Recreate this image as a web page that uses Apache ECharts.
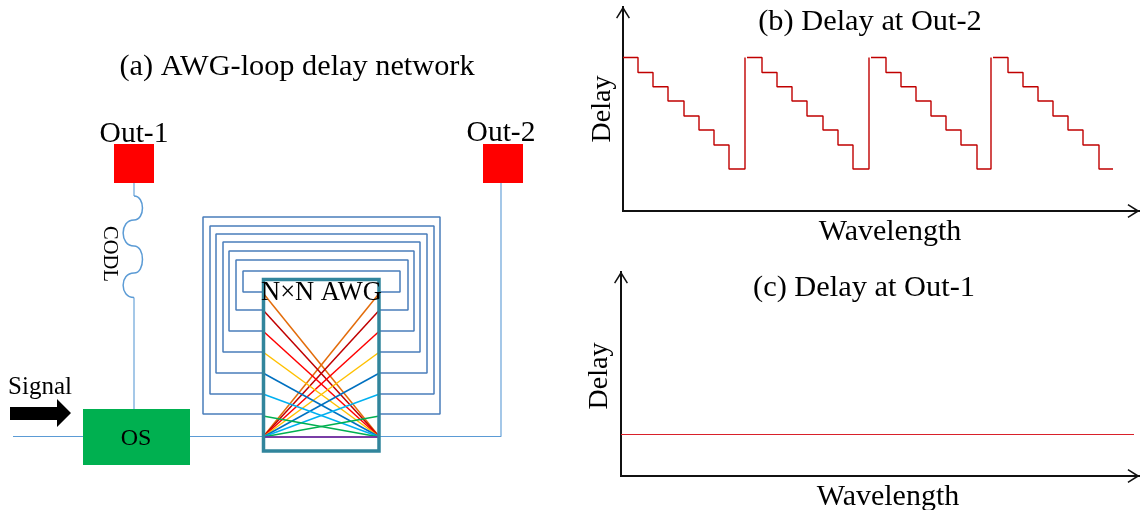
<!DOCTYPE html>
<html><head><meta charset="utf-8">
<style>html,body{margin:0;padding:0;background:#fff}#c{width:1140px;height:510px}</style>
<script src="https://cdn.jsdelivr.net/npm/echarts@6/dist/echarts.min.js"></script>
</head><body><div id="c"></div>
<script>
// Panel (b): delay staircase, wavelength and delay
const delayLevels = [153.5, 138.5, 124.3, 110, 95, 81, 66, 42];
const period1 = [0, 15, 30, 45, 61, 76, 91, 106, 122];
const period2 = [124, 139, 154, 169, 184, 200, 215, 230, 246];
const period3 = [248, 263, 278, 293, 308, 323, 338, 354, 368];
const period4 = [370, 385, 400, 415, 430, 445, 460, 476, 490];
// Panel (c): flat delay
const flatWavelength = [0, 513];
const flatDelay = [41.5, 41.5];
// Panel (a): diagram parts
const loopLeft = [243, 236, 229, 223, 216, 210, 203];
const loopTop = [271, 260, 251, 242, 234, 226, 217];
const loopRight = [400, 408, 414, 420, 427, 434, 440];
const loopBottom = [292, 310, 331, 352, 373, 394, 414];
const fanPorts = [293, 310, 331, 352, 373, 394, 416, 437];
const fanColors = ['#E36C0A', '#C00000', '#FF0000', '#FFC000', '#0070C0', '#00B0F0', '#00B050', '#7030A0'];
const coilTurns = [[297.5,273,-14.5],[273,246,11.3],[246,220,-14.5],[220,196,11.3]];
const labels = ['(a) AWG-loop delay network', 'Out-1', 'Out-2', 'Signal', 'OS', 'CODL', 'N×N AWG', '(b) Delay at Out-2', '(c) Delay at Out-1'];

const SERIF = '"Liberation Serif","Times New Roman",serif';
const WIRE = '#5B9BD5', LOOP = '#4A7EBB', RED = '#C00000';
const chevUp = 'path://M-9 13 L-0.9 0 L0.9 0 L9 13 L7.4 14 L0 2.6 L-7.4 14 Z';

function stepSeries(xs, levels, last) {
  const d = xs.map((x, i) => [x, i < levels.length ? levels[i] : last]);
  return {type:'line', xAxisIndex:1, yAxisIndex:1, step:'end', data:d, symbol:'none', clip:false,
    lineStyle:{color:RED, width:1.4}, silent:true, z:3};
}
function poly(points, color, width, z, extra) {
  return Object.assign({type:'line', xAxisIndex:0, yAxisIndex:0, data:points, symbol:'none', clip:false, silent:true,
    lineStyle:{color:color, width:width}, z:z}, extra || {});
}
function box(x0, y0, x1, y1, fill, stroke, lw, z) {
  return {type:'custom', xAxisIndex:0, yAxisIndex:0, clip:false, silent:true, z:z, data:[[x0,y0,x1,y1]],
    renderItem(p, api) {
      const a = api.coord([api.value(0), api.value(1)]), b = api.coord([api.value(2), api.value(3)]);
      return {type:'rect', shape:{x:a[0], y:a[1], width:b[0]-a[0], height:b[1]-a[1]},
        style:{fill:fill, stroke:stroke, lineWidth:lw}};
    }};
}
const arrowPts = [[10,407],[57,407],[57,399],[71,413],[57,427],[57,420],[10,420]];

const series = [];
loopLeft.forEach((_, i) => {
  series.push(poly([[263,loopBottom[i]],[loopLeft[i],loopBottom[i]],[loopLeft[i],loopTop[i]],[loopRight[i],loopTop[i]],[loopRight[i],loopBottom[i]],[379,loopBottom[i]]], LOOP, 1.5, 2));
});
fanPorts.forEach((y, i) => {
  series.push(poly([[263,437],[379.5,y]], fanColors[i], 1.5, 4));
  series.push(poly([[379.5,437],[263,y]], fanColors[i], 1.5, 4));
});
series.push(poly([[13,436.5],[83,436.5]], WIRE, 1.1, 2));
series.push(poly([[190,436.5],[263,436.5]], WIRE, 1.1, 2));
series.push(poly([[379,436.5],[501,436.5],[501,183]], WIRE, 1.1, 2));
series.push(poly([[134,409],[134,297.5]], WIRE, 1.1, 2));
series.push(poly([[134,196],[134,183]], WIRE, 1.1, 2));
series.push({type:'custom', xAxisIndex:0, yAxisIndex:0, clip:false, silent:true, z:2, data:coilTurns,
  renderItem(p, api) {
    const y0 = api.value(0), y1 = api.value(1), b = api.value(2);
    const a = api.coord([134,y0]), c = api.coord([134,y1]), q = api.coord([134+b,y0]), r = api.coord([134+b,y1]);
    return {type:'bezierCurve', shape:{x1:a[0], y1:a[1], x2:c[0], y2:c[1], cpx1:q[0], cpy1:q[1], cpx2:r[0], cpy2:r[1]},
      style:{fill:null, stroke:WIRE, lineWidth:1.5}};
  }});
series.push(box(114,144,154,183,'#FF0000',null,0,5));
series.push(box(483,144,523,183,'#FF0000',null,0,5));
series.push(box(83,409,190,465,'#00B050',null,0,5));
series.push(box(263.5,279.5,379,451,'rgba(0,0,0,0)','#31859C',3.5,5));
series.push({type:'custom', xAxisIndex:0, yAxisIndex:0, clip:false, silent:true, z:5, data:arrowPts,
  renderItem(p, api) {
    if (p.dataIndex !== 0) return {type:'group', children:[]};
    return {type:'polygon', shape:{points:arrowPts.map(q => api.coord(q))}, style:{fill:'#000'}};
  }});
series.push(stepSeries(period1, delayLevels, delayLevels[0]));
series.push(stepSeries(period2, delayLevels, delayLevels[0]));
series.push(stepSeries(period3, delayLevels, delayLevels[0]));
series.push(stepSeries(period4, delayLevels, delayLevels[7]));
series.push({type:'line', xAxisIndex:2, yAxisIndex:2, data:flatWavelength.map((x,i)=>[x,flatDelay[i]]), symbol:'none', clip:false, silent:true,
  lineStyle:{color:'#D9202A', width:1.2}, z:3});

function txt(s, x, y, size, rot) {
  return {type:'text', x:x, y:y, rotation:rot||0, z:20, silent:true,
    style:{text:s, font:size+'px '+SERIF, fill:'#000', align:'center', verticalAlign:'middle'}};
}
function plotAxis(idx, kind, max, name, gap, pad, size) {
  const horiz = kind === 'x';
  return {gridIndex:idx, type:'value', min:0, max:max, name:name, nameLocation:'middle', nameGap:gap,
    nameRotate: horiz ? 0 : 90,
    nameTextStyle:{fontFamily:SERIF, fontSize:size, color:'#000', padding:pad},
    axisLine:{show:true, onZero:false, symbol:['none', chevUp], symbolSize:[14,13], symbolOffset:[0,-6], lineStyle:{color:'#111', width:2, cap:'square'}},
    axisTick:{show:false}, axisLabel:{show:false}, splitLine:{show:false}};
}

const chart = echarts.init(document.getElementById('c'), null, {renderer:'canvas'});
chart.setOption({
  animation:false, backgroundColor:'#fff',
  grid:[
    {left:0, top:0, width:1140, height:510, outerBoundsMode:'none'},
    {left:623, top:7, width:516, height:204, outerBoundsMode:'none'},
    {left:621, top:272, width:518, height:204, outerBoundsMode:'none'}
  ],
  xAxis:[
    {gridIndex:0, type:'value', show:false, min:0, max:1140},
    plotAxis(1,'x',516,'Wavelength',6,[0,0,0,18],30),
    plotAxis(2,'x',518,'Wavelength',6,[0,0,0,16],30)
  ],
  yAxis:[
    {gridIndex:0, type:'value', show:false, min:0, max:510, inverse:true},
    plotAxis(1,'y',204,'Delay',6,[0,0,0,0],28),
    plotAxis(2,'y',204,'Delay',7,[0,4,0,0],28)
  ],
  series:series,
  graphic:[
    txt(labels[0],297,67,30.3),
    txt(labels[1],134,134,29.5),
    txt(labels[2],501,133,29.5),
    txt(labels[3],40,387,25),
    txt(labels[4],136,439,24),
    txt(labels[5],109,254,20.5,-Math.PI/2),
    txt(labels[6],321.5,293,26.5),
    txt(labels[7],870,22,30.4),
    txt(labels[8],864,288,30.4)
  ]
});
</script></body></html>
